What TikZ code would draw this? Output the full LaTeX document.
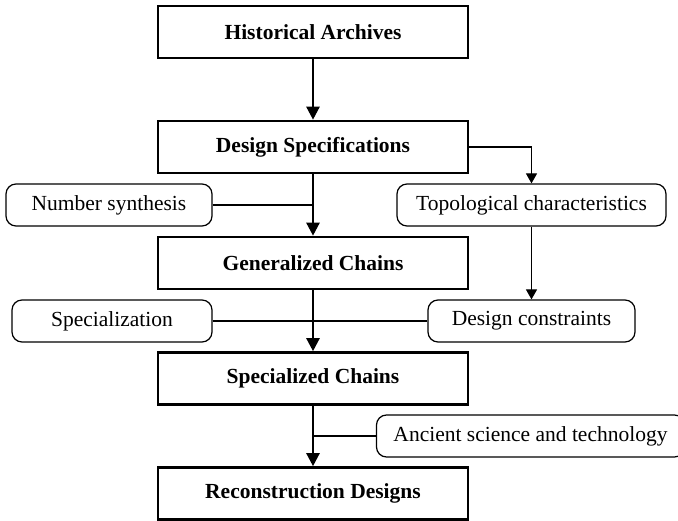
\documentclass[tikz,border=0pt]{standalone}
\usepackage{fontspec}
\setmainfont{Liberation Serif}
\usetikzlibrary{arrows.meta,positioning,calc}

\tikzset{
  stage/.style={draw, line width=2.6pt, rectangle, minimum width=310pt, minimum height=52pt,
    font=\fontsize{21.5}{24}\selectfont\bfseries, inner sep=0pt},
  factor/.style={draw, line width=1.2pt, rectangle, rounded corners=10pt, minimum height=42pt,
    font=\fontsize{21.5}{24}\selectfont, inner sep=0pt},
  flow/.style={line width=2.4pt, -{Triangle[length=13pt,width=13pt]}},
  link/.style={line width=1.2pt},
  linkarrow/.style={line width=1.2pt, -{Triangle[length=10pt,width=11pt]}}
}

\begin{document}
\begin{tikzpicture}[x=1pt, y=-1pt]

\useasboundingbox (0,0) rectangle (678,521);

% Main stages
\node[stage] (arch) at (313, 32)    {Historical Archives};
\node[stage] (spec) at (313, 147)   {Design Specifications};
\node[stage] (gen)  at (313, 263)   {Generalized Chains};
\node[stage] (spl)  at (313, 378.5) {Specialized Chains};
\node[stage] (rec)  at (313, 493.5) {Reconstruction Designs};

% Side factors
\node[factor, minimum width=206pt] (num)  at (109, 205)   {Number synthesis};
\node[factor, minimum width=269pt] (topo) at (531.5, 205) {Topological characteristics};
\node[factor, minimum width=200pt] (sz)   at (112, 321)   {Specialization};
\node[factor, minimum width=207pt] (cons) at (531.5, 321) {Design constraints};
\node[factor, minimum width=308pt] (anc)  at (530.5, 436) {Ancient science and technology};

% Side links into the trunk
\draw[link] (num.east) -- (num.east -| spec.south);
\draw[link] (sz.east) -- (cons.west);
\draw[link] (anc.west) -- (anc.west -| spl.south);
\draw[linkarrow] (spec.east) -| (topo.north);
\draw[linkarrow] (topo.south) -- (cons.north);

% Trunk
\draw[flow] (arch) -- (spec);
\draw[flow] (spec) -- (gen);
\draw[flow] (gen) -- (spl);
\draw[flow] (spl) -- (rec);

\end{tikzpicture}
\end{document}
